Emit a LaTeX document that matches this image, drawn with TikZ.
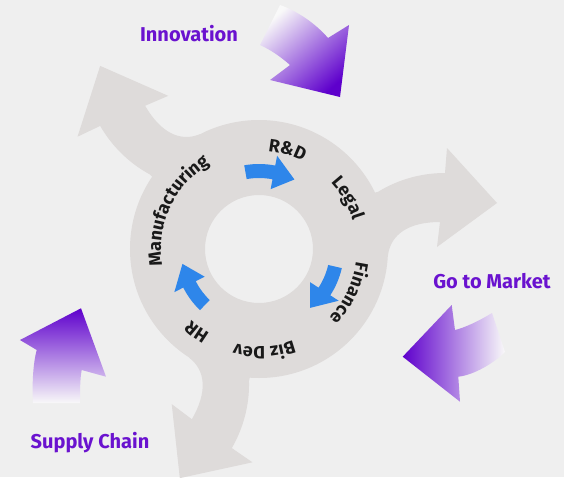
\documentclass[tikz,border=0pt]{standalone}
\usepackage{fontspec}
\setmainfont{Fira Sans}
\usetikzlibrary{decorations.text}
\definecolor{bg}{HTML}{EFEFEF}
\definecolor{ringgray}{HTML}{DEDBDA}
\definecolor{blueA}{HTML}{2E86EA}
\definecolor{purp}{HTML}{5E00CC}
\definecolor{purptext}{HTML}{6A12CF}
\colorlet{fadeend}{white!60!bg}
\newcommand\ringfont{\fontsize{18}{18}\selectfont\bfseries\color{black!90}}
\newcommand\blarr[3]{\fill[bluearrow] (#1:85) arc[start angle=#1, end angle=#2, radius=85] -- (#2:95) -- (#3:78) -- (#2:61) -- (#2:71) arc[start angle=#2, end angle=#1, radius=71] -- cycle;}
\newcommand\ringtext[3]{\path[decorate, decoration={text along path, text={|\ringfont|#1}, text align=center}] ({#2+#3}:98) arc[start angle={#2+#3}, end angle={#2-#3}, radius=98];}
\begin{document}
\begin{tikzpicture}[x=1pt,y=1pt,
  bluearrow/.style={fill=blueA},
  grayshape/.style={fill=ringgray},
  plabel/.style={text=purptext, font=\fontsize{20}{20}\selectfont\bfseries, inner sep=0pt},
]
\fill[bg] (-259,-228) rectangle (305,249);
\useasboundingbox (-259,-228) rectangle (305,249);

% gray outgoing arrows
\foreach \r in {0,120,240}{
  \fill[grayshape, rotate=\r] (119.3,57.3) .. controls (135,67) and (158,76) .. (186,76) -- (188,101) -- (238,46) -- (178,2) -- (181,27) .. controls (150,27) and (132,15) .. (129,-6) -- (95,-6) -- (95,50) -- cycle;
}
% ring
\fill[grayshape, even odd rule] (0,0) circle (129) (0,0) circle (54);

% blue arrows
\blarr{100}{79}{63}
\blarr{-13}{-33}{-49}
\blarr{-134}{-153}{-169}

% ring texts
\ringtext{R{\&}D}{74}{60}
\ringtext{Legal}{30}{60}
\ringtext{Finance}{-26}{60}
\ringtext{Biz Dev}{-87}{60}
\ringtext{HR}{-127}{60}
\ringtext{Manufacturing}{155}{80}

% purple arrows
\shade[top color=purp, bottom color=fadeend, shading angle=-138] (81,152) -- (90,224) -- (69,211) .. controls (56,226) and (38,238) .. (21,244) -- (1,204) .. controls (12,199) and (22,192) .. (31,184) -- (11,169) -- cycle;
\shade[left color=purp, right color=fadeend] (143.7,-107.7) -- (192.7,-56) -- (196,-81) .. controls (205,-79) and (220,-72) .. (233,-64) -- (246,-103) .. controls (235,-114) and (215,-126) .. (199.3,-127.7) -- (201,-152.7) -- cycle;
\shade[top color=purp, bottom color=fadeend] (-178,-59.3) -- (-153,-127.7) -- (-177.3,-121) .. controls (-179,-130) and (-179,-142) .. (-179,-154) -- (-226,-154) .. controls (-227,-135) and (-226,-115) .. (-222.3,-101) -- (-239,-91) -- cycle;

% labels
\node[plabel] (innov) at (-70,215) {Innovation};
\node[plabel] (gtm) at (233,-32) {Go to Market};
\node[plabel] (sc) at (-169,-194) {Supply Chain};
\end{tikzpicture}
\end{document}
